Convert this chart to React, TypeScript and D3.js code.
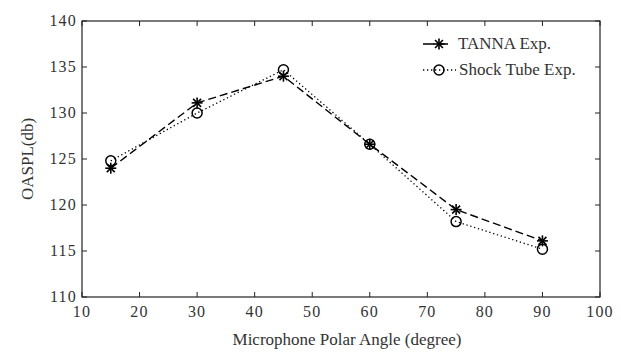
import React from "react";
import * as d3 from "d3";

const angles = [15, 30, 45, 60, 75, 90];
const tannaValues = [124.0, 131.1, 134.0, 126.6, 119.5, 116.1];
const shockValues = [124.8, 130.0, 134.7, 126.6, 118.2, 115.2];
const xTicks = [10, 20, 30, 40, 50, 60, 70, 80, 90, 100];
const yTicks = [110, 115, 120, 125, 130, 135, 140];
const seriesNames = ["TANNA Exp.", "Shock Tube Exp."];
const xTitle = "Microphone Polar Angle (degree)";
const yTitle = "OASPL(db)";

const W = 621, H = 352;
const L = 82, R = 600, T = 21, B = 297;
const FONT = "'Liberation Serif', 'Times New Roman', serif";
const AX = "#222";

function Star({ x, y, s = 5.5 }: { x: number; y: number; s?: number }) {
  const d = s * 0.72;
  return (
    <g stroke="#000" strokeWidth={1.6}>
      <line x1={x - s} y1={y} x2={x + s} y2={y} />
      <line x1={x} y1={y - s} x2={x} y2={y + s} />
      <line x1={x - d} y1={y - d} x2={x + d} y2={y + d} />
      <line x1={x - d} y1={y + d} x2={x + d} y2={y - d} />
    </g>
  );
}

function Circ({ x, y }: { x: number; y: number }) {
  return <circle cx={x} cy={y} r={5} fill="none" stroke="#000" strokeWidth={1.5} />;
}

export default function App() {
  const x = d3.scaleLinear().domain([10, 100]).range([L, R]);
  const y = d3.scaleLinear().domain([110, 140]).range([B, T]);
  const line = d3
    .line<[number, number]>()
    .x((d) => x(d[0]))
    .y((d) => y(d[1]));
  const tannaPts = angles.map((a, i) => [a, tannaValues[i]] as [number, number]);
  const shockPts = angles.map((a, i) => [a, shockValues[i]] as [number, number]);
  const tick = 5;

  return (
    <svg width={W} height={H} style={{ position: "absolute", left: 0, top: 0, background: "#fff" }}>
      <rect x={0} y={0} width={W} height={H} fill="#fff" />
      <rect x={L} y={T} width={R - L} height={B - T} fill="none" stroke={AX} strokeWidth={1.2} />
      {xTicks.map((t) => (
        <g key={"x" + t}>
          <line x1={x(t)} x2={x(t)} y1={B} y2={B - tick} stroke={AX} />
          <line x1={x(t)} x2={x(t)} y1={T} y2={T + tick} stroke={AX} />
          <text x={x(t)} y={B + 20} textAnchor="middle" fontFamily={FONT} fontSize={16} fill="#333" letterSpacing={1.2}>
            {t}
          </text>
        </g>
      ))}
      {yTicks.map((t) => (
        <g key={"y" + t}>
          <line x1={L} x2={L + tick} y1={y(t)} y2={y(t)} stroke={AX} />
          <line x1={R} x2={R - tick} y1={y(t)} y2={y(t)} stroke={AX} />
          <text x={L - 5} y={y(t) + 5} textAnchor="end" fontFamily={FONT} fontSize={16} fill="#333" letterSpacing={1.2}>
            {t}
          </text>
        </g>
      ))}
      <text x={(L + R) / 2 + 6} y={345} textAnchor="middle" fontFamily={FONT} fontSize={17} fill="#333">
        {xTitle}
      </text>
      <text
        transform={`translate(33,${(T + B) / 2}) rotate(-90)`}
        textAnchor="middle"
        fontFamily={FONT}
        fontSize={17}
        fill="#333"
      >
        {yTitle}
      </text>

      <path d={line(shockPts) || ""} fill="none" stroke="#000" strokeWidth={1.3} strokeDasharray="1.3,2.7" />
      <path d={line(tannaPts) || ""} fill="none" stroke="#000" strokeWidth={1.4} strokeDasharray="8,4" />
      {shockPts.map((p, i) => (
        <Circ key={"c" + i} x={x(p[0])} y={y(p[1])} />
      ))}
      {tannaPts.map((p, i) => (
        <Star key={"s" + i} x={x(p[0])} y={y(p[1])} />
      ))}

      <g>
        <line x1={423} x2={454} y1={44} y2={44} stroke="#000" strokeWidth={1.4} strokeDasharray="11,6,8" />
        <Star x={439} y={44} />
        <text x={458} y={49} fontFamily={FONT} fontSize={17} fill="#333">
          {seriesNames[0]}
        </text>
        <line x1={423} x2={456} y1={70} y2={70} stroke="#000" strokeWidth={1.3} strokeDasharray="1.3,2.7" />
        <Circ x={439} y={70} />
        <text x={459} y={75} fontFamily={FONT} fontSize={17} fill="#333">
          {seriesNames[1]}
        </text>
      </g>
    </svg>
  );
}
